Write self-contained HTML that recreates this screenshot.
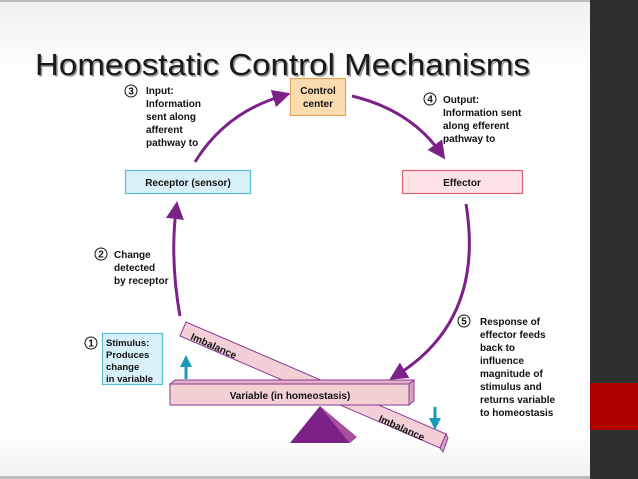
<!DOCTYPE html>
<html><head><meta charset="utf-8"><style>
html,body{margin:0;padding:0;width:638px;height:479px;overflow:hidden;background:#fff}
svg{display:block}
text{font-family:"Liberation Sans",Arial,sans-serif}
.s{font-size:10px;font-weight:bold;fill:#111}
</style></head><body>
<svg width="638" height="479" viewBox="0 0 638 479" xmlns="http://www.w3.org/2000/svg">
<defs>
<linearGradient id="bg" x1="0" y1="0" x2="0" y2="1"><stop offset="0" stop-color="#f0f0f0"/><stop offset="0.15" stop-color="#fff"/><stop offset="0.9" stop-color="#fff"/><stop offset="1" stop-color="#f1f1f1"/></linearGradient>
<marker id="ah" markerWidth="6" markerHeight="6" refX="3" refY="3" orient="auto" markerUnits="strokeWidth"><path d="M0,0 L6,3 L0,6 z" fill="#7b2188"/></marker>
<marker id="bh" markerWidth="4" markerHeight="4" refX="2" refY="2" orient="auto" markerUnits="strokeWidth"><path d="M0,0 L4,2 L0,4 z" fill="#1a9ab8"/></marker>
</defs>
<rect width="590" height="479" fill="url(#bg)"/>
<rect x="0" y="0" width="590" height="2" fill="#bbb"/>
<rect x="0" y="476" width="590" height="3" fill="#bbb"/>
<rect x="590" y="0" width="48" height="479" fill="#2e2e2e"/>
<rect x="590" y="383" width="48" height="47" fill="#b00000"/>
<text x="35" y="75" font-size="31" fill="#999" dx="1.5" dy="1.5" textLength="495" lengthAdjust="spacingAndGlyphs">Homeostatic Control Mechanisms</text>
<text x="35" y="75" font-size="31" fill="#1a1a1a" textLength="495" lengthAdjust="spacingAndGlyphs">Homeostatic Control Mechanisms</text>

<g fill="none" stroke="#7b2188" stroke-width="3">
<path d="M195,162 Q225,113 282,96" marker-end="url(#ah)"/>
<path d="M352,96 Q410,110 440,152" marker-end="url(#ah)"/>
<path d="M466,204 Q485,320 397,375" marker-end="url(#ah)"/>
<path d="M180,316 Q170,260 176,210" marker-end="url(#ah)"/>
</g>

<rect x="290.5" y="78.5" width="55" height="37" fill="#fbdcb0" stroke="#e3a558" stroke-width="1.2"/>
<text class="s" x="318" y="94" text-anchor="middle">Control</text>
<text class="s" x="318" y="107" text-anchor="middle">center</text>
<rect x="125.5" y="170.5" width="125" height="23" fill="#d8f1f8" stroke="#5cbcd6" stroke-width="1.2"/>
<text class="s" x="188" y="186" text-anchor="middle">Receptor (sensor)</text>
<rect x="402.5" y="170.5" width="120" height="23" fill="#fde2e5" stroke="#dc6575" stroke-width="1.2"/>
<text class="s" x="462" y="186" text-anchor="middle">Effector</text>
<rect x="102.5" y="333.5" width="60" height="51" fill="#d8f1f8" stroke="#5cbcd6" stroke-width="1.2"/>

<g fill="#fff" stroke="#111" stroke-width="1">
<circle cx="131" cy="91" r="6"/><circle cx="430" cy="99" r="6"/>
<circle cx="101" cy="254" r="6"/><circle cx="91" cy="343" r="6"/><circle cx="464" cy="321" r="6"/>
</g>
<text class="s" x="131" y="94.5" text-anchor="middle" font-size="9" font-weight="normal">3</text>
<text class="s" x="430" y="102.5" text-anchor="middle" font-size="9" font-weight="normal">4</text>
<text class="s" x="101" y="257.5" text-anchor="middle" font-size="9" font-weight="normal">2</text>
<text class="s" x="91" y="346.5" text-anchor="middle" font-size="9" font-weight="normal">1</text>
<text class="s" x="464" y="324.5" text-anchor="middle" font-size="9" font-weight="normal">5</text>
<g class="s">
<text x="146" y="94">Input:</text><text x="146" y="107">Information</text><text x="146" y="120">sent along</text><text x="146" y="133">afferent</text><text x="146" y="146">pathway to</text>
<text x="443" y="103">Output:</text><text x="443" y="116">Information sent</text><text x="443" y="129">along efferent</text><text x="443" y="142">pathway to</text>
<text x="114" y="258">Change</text><text x="114" y="271">detected</text><text x="114" y="284">by receptor</text>
<g font-size="9.5"><text x="106" y="346">Stimulus:</text><text x="106" y="358">Produces</text><text x="106" y="370">change</text><text x="106" y="382">in variable</text></g>
<text x="480" y="325">Response of</text><text x="480" y="338">effector feeds</text><text x="480" y="351">back to</text><text x="480" y="364">influence</text><text x="480" y="377">magnitude of</text><text x="480" y="390">stimulus and</text><text x="480" y="403">returns variable</text><text x="480" y="416">to homeostasis</text>
</g>

<polygon points="290,443 320,406 350,443" fill="#7b2188"/>
<polygon points="320,406 350,443 357,437" fill="#a8509f"/>
<g stroke="#8a3a8f" stroke-width="1">
<polygon points="180,336 186,322 446,434 440,448" fill="#f3d0d8"/>
<polygon points="440,448 446,434 448,438 443,452" fill="#d8a0c0"/>
</g>
<g stroke="#8a3a8f" stroke-width="1">
<polygon points="170,384 175,380 414,380 409,384" fill="#e3b0c8"/>
<rect x="170" y="384" width="239" height="21" fill="#f3d0d3"/>
<polygon points="409,384 414,380 414,401 409,405" fill="#d8a0c0"/>
</g>
<text class="s" x="290" y="399" text-anchor="middle">Variable (in homeostasis)</text>
<text class="s" transform="translate(190,339) rotate(24)">Imbalance</text>
<text class="s" transform="translate(378,421) rotate(24)">Imbalance</text>
<g stroke="#1a9ab8" stroke-width="3" fill="none">
<line x1="186" y1="379" x2="186" y2="361" marker-end="url(#bh)"/>
<line x1="435" y1="407" x2="435" y2="424" marker-end="url(#bh)"/>
</g>
</svg>
</body></html>
